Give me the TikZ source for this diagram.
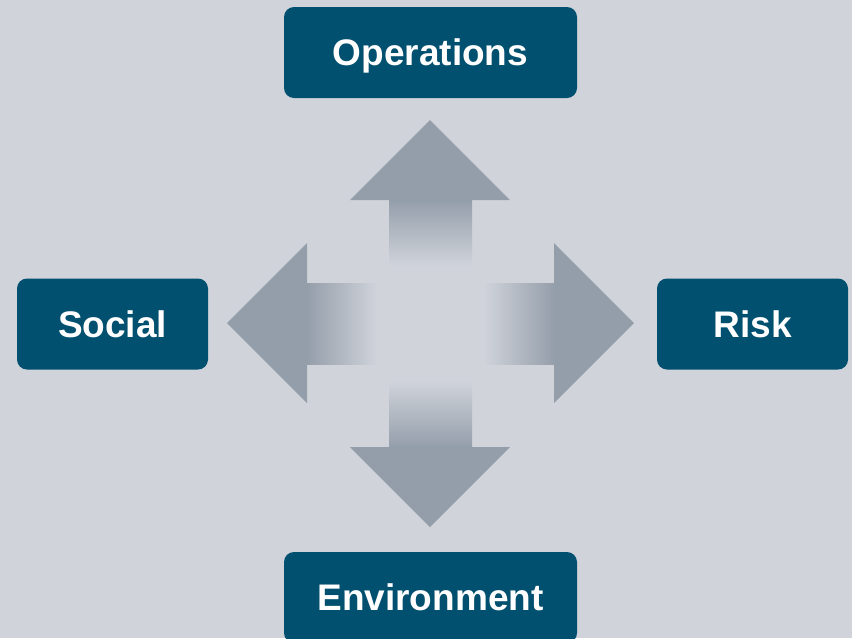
\documentclass[tikz,border=0pt]{standalone}
\usepackage{fontspec}
\setmainfont{Liberation Sans}
\definecolor{bg}{HTML}{D0D3DA}
\definecolor{boxfill}{HTML}{02506F}
\definecolor{arrowgray}{HTML}{949EAA}
\tikzset{
  cat/.style={fill=boxfill, rounded corners=10pt, minimum width=293pt, minimum height=91pt,
    inner sep=0pt, text height=26.5pt, text depth=0pt, text=white,
    font=\fontsize{37}{40}\selectfont\bfseries},
  sidecat/.style={cat, minimum width=191pt},
  head/.style={fill=arrowgray, draw=none}
}
\begin{document}
\begin{tikzpicture}[x=1pt,y=-1pt]
\useasboundingbox (0,0) rectangle (852,638);
\fill[bg] (0,0) rectangle (852,638);
\begin{scope}
\clip (0,0) rectangle (852,638);
% boxes
\node[cat] (ops) at (430.5,52.5) {Operations};
\node[cat] (env) at (430.5,597.5) {Environment};
\node[sidecat] (soc) at (112.5,324) {Social};
\node[sidecat] (risk) at (752.5,324) {Risk};
\end{scope}
% arrow heads
\fill[head] (430,120) -- (510,200) -- (350,200) -- cycle;
\fill[head] (430,527) -- (510,447) -- (350,447) -- cycle;
\fill[head] (227,323) -- (307,243) -- (307,403) -- cycle;
\fill[head] (634,323) -- (554,243) -- (554,403) -- cycle;
% fading shafts
\shade[top color=arrowgray, bottom color=bg] (389,199.5) rectangle (472,266);
\shade[top color=bg, bottom color=arrowgray] (389,381) rectangle (472,447.5);
\shade[left color=arrowgray, right color=bg] (306.5,283) rectangle (377,364);
\shade[left color=bg, right color=arrowgray] (484,283) rectangle (554.5,364);
\end{tikzpicture}
\end{document}
